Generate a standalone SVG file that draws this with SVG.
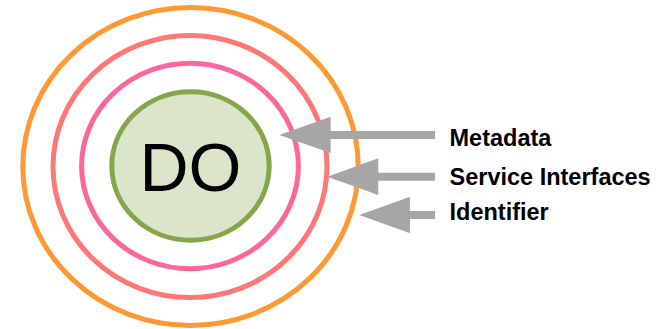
<svg xmlns="http://www.w3.org/2000/svg" width="659" height="329" viewBox="0 0 659 329">
  <style>
    .ring { fill: none; stroke-width: 5; }
    .lbl { font-family: "Liberation Sans", Arial, sans-serif; font-weight: bold; font-size: 23.5px; fill: #000; }
    .shaft { stroke: #A6A6A6; stroke-width: 8; fill: none; }
    .head { fill: #A6A6A6; }
  </style>
  <rect width="659" height="329" fill="#ffffff"/>
  <g id="identifier-ring">
    <ellipse class="ring" cx="190.5" cy="166.5" rx="167.7" ry="159" stroke="#FF9933"/>
  </g>
  <g id="service-interfaces-ring">
    <ellipse class="ring" cx="190" cy="166.5" rx="137" ry="131" stroke="#FF7777"/>
  </g>
  <g id="metadata-ring">
    <ellipse class="ring" cx="190" cy="166" rx="108.4" ry="102.7" stroke="#FF6699"/>
  </g>
  <g id="do">
    <ellipse cx="190.5" cy="166" rx="78.7" ry="74.2" fill="#DAE5C9" stroke="#85A64B" stroke-width="5"/>
    <text x="190.5" y="191" text-anchor="middle" font-family="Liberation Sans, Arial, sans-serif" font-size="68" fill="#000">DO</text>
  </g>
  <g id="connectors">
    <line class="shaft" x1="435" y1="135" x2="325" y2="135"/>
    <polygon class="head" points="279.3,135 330.7,116.7 330.7,153"/>
    <line class="shaft" x1="435" y1="176.7" x2="373" y2="176.7"/>
    <polygon class="head" points="327.3,176.7 378.3,158.3 378.3,195"/>
    <line class="shaft" x1="435" y1="215" x2="405" y2="215"/>
    <polygon class="head" points="359.3,215 410,196.7 410,233.3"/>
  </g>
  <g id="labels">
    <text class="lbl" x="449.5" y="146">Metadata</text>
    <text class="lbl" x="449.5" y="185">Service Interfaces</text>
    <text class="lbl" x="449.5" y="220">Identifier</text>
  </g>
</svg>
